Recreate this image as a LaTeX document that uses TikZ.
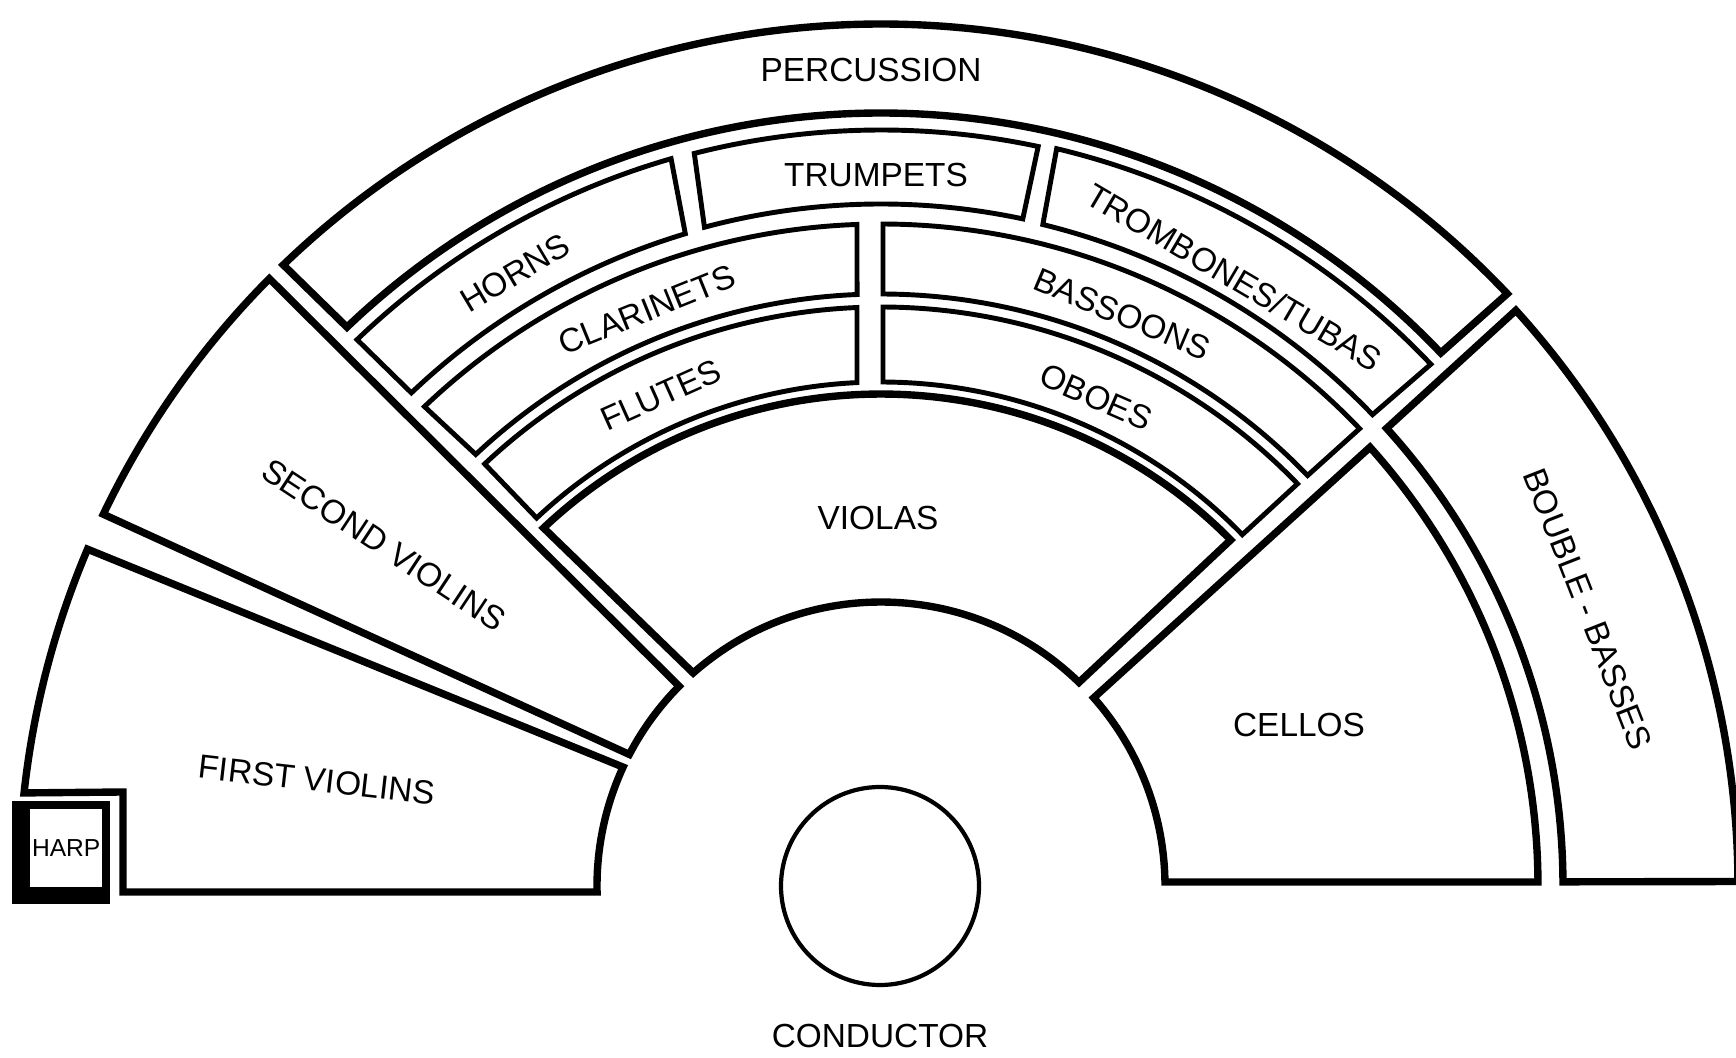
\documentclass[tikz,border=0pt]{standalone}
\usepackage{fontspec}
\setmainfont{Liberation Sans}
\usetikzlibrary{positioning}
\tikzset{
  section/.style={draw,line width=2.1pt},
  woodbox/.style={draw,line width=1.4pt},
  seat/.style={font=\fontsize{9.5}{11}\selectfont,inner sep=1pt},
  podium/.style={draw,circle,line width=1.2pt,minimum size=1.98cm,inner sep=0pt},
  harpbox/.style={draw,line width=2pt,minimum width=0.795cm,minimum height=0.855cm,
    inner sep=0pt,font=\fontsize{7}{8}\selectfont}
}

\begin{document}
\begin{tikzpicture}
\useasboundingbox (-8.81,-1.71) rectangle (8.55,8.86);

% strings
\draw[section] (157:8.62) arc[start angle=157,end angle=173.8,radius=8.62]
  -- (-7.58,0.94) -- (-7.58,-0.06) -- (181.2:2.84)
  arc[start angle=181.2,end angle=155.25,radius=2.84] -- cycle;
\draw[section] (135.2:8.62) arc[start angle=135.2,end angle=154.45,radius=8.62]
  -- (152.4:2.84) arc[start angle=152.4,end angle=135.3,radius=2.84] -- cycle;
\draw[section] (133.3:4.92) arc[start angle=133.3,end angle=44.7,radius=4.92]
  -- (45.8:2.84) arc[start angle=45.8,end angle=131.4,radius=2.84] -- cycle;
\draw[section] (0.8:2.84) arc[start angle=0.8,end angle=41.5,radius=2.84]
  -- (41.9:6.57) arc[start angle=41.9,end angle=0.35,radius=6.57] -- cycle;
\draw[section] (0.35:6.82) arc[start angle=0.35,end angle=42.15,radius=6.82]
  -- (42.2:8.57) arc[start angle=42.2,end angle=0.3,radius=8.57] -- cycle;

% woodwinds
\draw[woodbox] (133.2:5.79) arc[start angle=133.2,end angle=92.38,radius=5.79]
  -- (92.73:5.04) arc[start angle=92.73,end angle=133.1,radius=5.04] -- cycle;
\draw[woodbox] (89.8:5.79) arc[start angle=89.8,end angle=44.0,radius=5.79]
  -- (44.2:5.04) arc[start angle=44.2,end angle=89.77,radius=5.04] -- cycle;
\draw[woodbox] (133.6:6.62) arc[start angle=133.6,end angle=92.08,radius=6.62]
  -- (92.32:5.92) arc[start angle=92.32,end angle=133.2,radius=5.92] -- cycle;
\draw[woodbox] (89.83:6.62) arc[start angle=89.83,end angle=43.7,radius=6.62]
  -- (43.9:5.92) arc[start angle=43.9,end angle=89.81,radius=5.92] -- cycle;

% brass and percussion
\draw[woodbox] (133.8:7.57) arc[start angle=133.8,end angle=106.1,radius=7.57]
  -- (106.7:6.81) arc[start angle=106.7,end angle=133.6,radius=6.81] -- cycle;
\draw[woodbox] (104.3:7.56) arc[start angle=104.3,end angle=78.0,radius=7.56]
  -- (78.0:6.82) arc[start angle=78.0,end angle=105.0,radius=6.82] -- cycle;
\draw[woodbox] (76.6:7.58) arc[start angle=76.6,end angle=43.5,radius=7.58]
  -- (43.8:6.81) arc[start angle=43.8,end angle=76.25,radius=6.81] -- cycle;
\draw[section] (133.9:8.62) arc[start angle=133.9,end angle=43.4,radius=8.62]
  -- (43.6:7.73) arc[start angle=43.6,end angle=133.7,radius=7.73] -- cycle;

% labels
\node[seat] (percussion) at (-0.10,8.16) {PERCUSSION};
\node[seat] (trumpets) at (-0.05,7.11) {TRUMPETS};
\node[seat,rotate=30.8] (horns) at (-3.66,6.13) {HORNS};
\node[seat,rotate=-30.5] (trombones) at (3.53,6.09) {TROMBONES/TUBAS};
\node[seat,rotate=22.1] (clarinets) at (-2.34,5.76) {CLARINETS};
\node[seat,rotate=-22.9] (bassoons) at (2.41,5.72) {BASSOONS};
\node[seat,rotate=24.1] (flutes) at (-2.20,4.91) {FLUTES};
\node[seat,rotate=-23.7] (oboes) at (2.15,4.89) {OBOES};
\node[seat] (violas) at (-0.03,3.68) {VIOLAS};
\node[seat,rotate=-33.5] (second) at (-4.97,3.41) {SECOND VIOLINS};
\node[seat,rotate=-6.5] (first) at (-5.64,1.06) {FIRST VIOLINS};
\node[seat] (cellos) at (4.18,1.61) {CELLOS};
\node[seat,rotate=-68.6] (basses) at (7.07,2.77) {BOUBLE - BASSES};

% conductor and harp
\node[podium] (podium) at (-0.01,0) {};
\node[seat,below=0.33cm of podium] (conductor) {CONDUCTOR};
\node[harpbox] (harp) at (-8.1475,0.3825) {HARP};
\draw[line width=0.14cm] ([xshift=-0.04cm]harp.north west)
  -- ([xshift=-0.04cm,yshift=-0.03cm]harp.south west) -- ([yshift=-0.03cm]harp.south east);
\end{tikzpicture}
\end{document}
